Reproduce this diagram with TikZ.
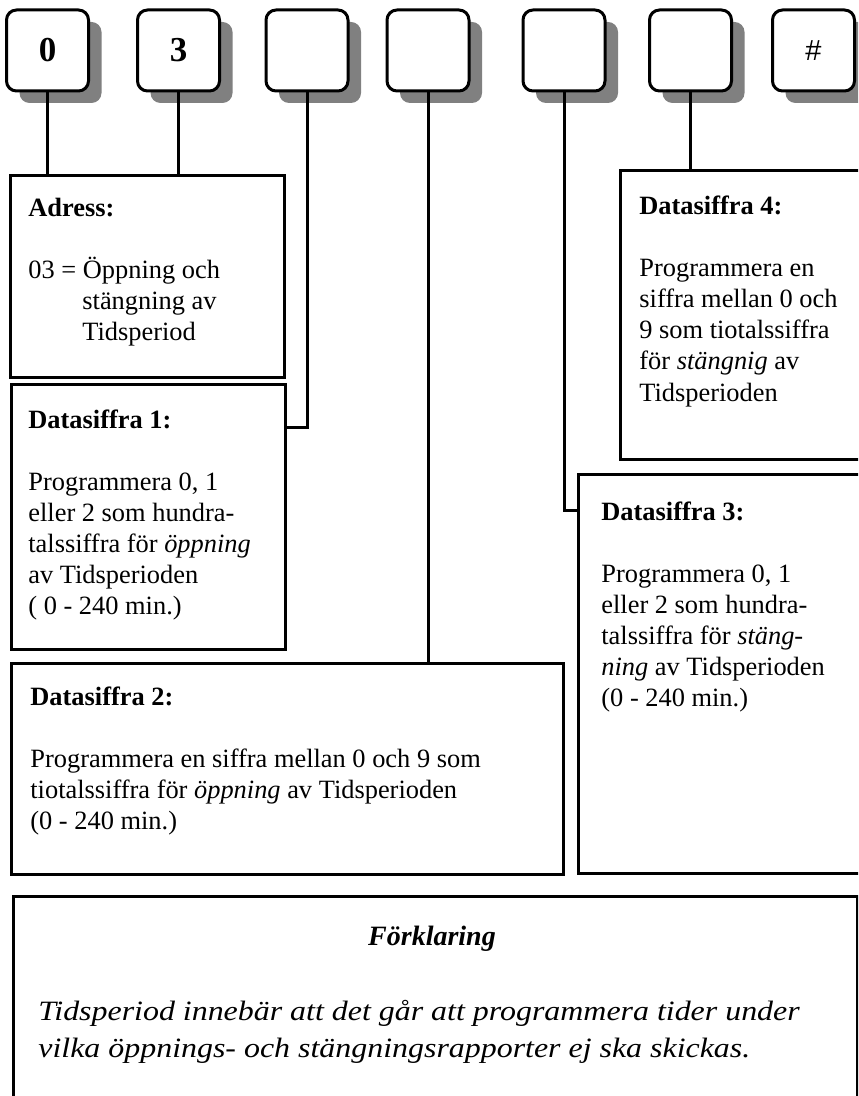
\documentclass[tikz,border=0pt]{standalone}
\usepackage{fontspec}
\setmainfont{Liberation Serif}
\newfontfamily\keysans{Liberation Sans}
\newfontfamily\fkfont[FakeStretch=1.14]{Liberation Serif}
\usetikzlibrary{shadows}
\begin{document}
\begin{tikzpicture}[x=0.5pt,y=-0.5pt,
  keybox/.style={draw,line width=1.5pt,rounded corners=5pt,fill=white,
    minimum width=41pt,minimum height=40.5pt,inner sep=0pt,
    font=\fontsize{17.5}{19}\selectfont\bfseries,
    drop shadow={shadow xshift=6.5pt,shadow yshift=-6pt,fill=black!50,opacity=1}},
  infobox/.style={draw,line width=1.5pt,anchor=north west,inner sep=0pt},
  conn/.style={line width=1.5pt},
  txt/.style={anchor=base west,inner sep=0pt,font=\fontsize{13.2}{15.5}\selectfont},
  bigtxt/.style={inner sep=0pt,font=\fontsize{14}{18.5}\selectfont\itshape}]
\useasboundingbox (0,0) rectangle (858,1096);
\clip (0,0) rectangle (858,1096);

% keys
\node[keybox] (k0) at (47.5,50.5) {0};
\node[keybox] (k1) at (178.5,50.5) {3};
\node[keybox] (k2) at (307,50.5) {};
\node[keybox] (k3) at (428,50.5) {};
\node[keybox] (k4) at (564,50.5) {};
\node[keybox] (k5) at (690.5,50.5) {};
\node[keybox,font=\keysans\fontsize{14.5}{16}\selectfont] (k6) at (813.5,50.5) {\#};

% boxes
\node[infobox,minimum width=137pt,minimum height=101pt] (adr) at (9,174) {};
\node[infobox,minimum width=137pt,minimum height=132.5pt] (d1) at (10,383) {};
\node[infobox,minimum width=276pt,minimum height=105.5pt] (d2) at (10,662) {};
\node[infobox,minimum width=150pt,minimum height=199.5pt] (d3) at (577,473) {};
\node[infobox,minimum width=130pt,minimum height=144.5pt] (d4) at (619,169) {};
\node[infobox,minimum width=422pt,minimum height=120pt] (fk) at (12,895) {};

\coordinate (j2) at ([yshift=-22pt]d1.north east);
\coordinate (j4) at ([yshift=-18.5pt]d3.north west);

% connectors
\draw[conn] (k0.south) -- (k0.south |- adr.north);
\draw[conn] (k1.south) -- (k1.south |- adr.north);
\draw[conn] (k2.south) |- (j2);
\draw[conn] (k3.south) -- (k3.south |- d2.north);
\draw[conn] (k4.south) |- (j4);
\draw[conn] (k5.south) -- (k5.south |- d4.north);

% texts
\node[txt] (tadr) at (28,217) {\parbox[t]{130pt}{\textbf{Adress:}\\[15.5pt]
03 = Öppning och\\\hspace*{27pt}stängning av\\\hspace*{27pt}Tidsperiod}};
\node[txt] (td1) at (28,428) {\parbox[t]{130pt}{\textbf{Datasiffra 1:}\\[15.5pt]
Programmera 0, 1\\eller 2 som hundra-\\talssiffra för \textit{öppning}\\av Tidsperioden\\( 0 - 240 min.)}};
\node[txt] (td2) at (30,705) {\parbox[t]{270pt}{\textbf{Datasiffra 2:}\\[15.5pt]
Programmera en siffra mellan 0 och 9 som\\tiotalssiffra för \textit{öppning} av Tidsperioden\\(0 - 240 min.)}};
\node[txt] (td3) at (601,520) {\parbox[t]{130pt}{\textbf{Datasiffra 3:}\\[15.5pt]
Programmera 0, 1\\eller 2 som hundra-\\talssiffra för \textit{stäng-}\\\textit{ning} av Tidsperioden\\(0 - 240 min.)}};
\node[txt] (td4) at (639,215) {\parbox[t]{130pt}{\textbf{Datasiffra 4:}\\[15.5pt]
Programmera en\\siffra mellan 0 och\\9 som tiotalssiffra\\för \textit{stängnig} av\\Tidsperioden}};
\node[bigtxt,anchor=base,font=\fontsize{14}{18.5}\selectfont\bfseries\itshape] (tfk) at (432,945) {Förklaring};
\node[bigtxt,anchor=base west,font=\fkfont\fontsize{14}{18.5}\selectfont\itshape] (tfkb) at (38,1020) {\parbox[t]{420pt}{Tidsperiod innebär att det går att programmera tider under\\vilka öppnings- och stängningsrapporter ej ska skickas.}};
\end{tikzpicture}
\end{document}
